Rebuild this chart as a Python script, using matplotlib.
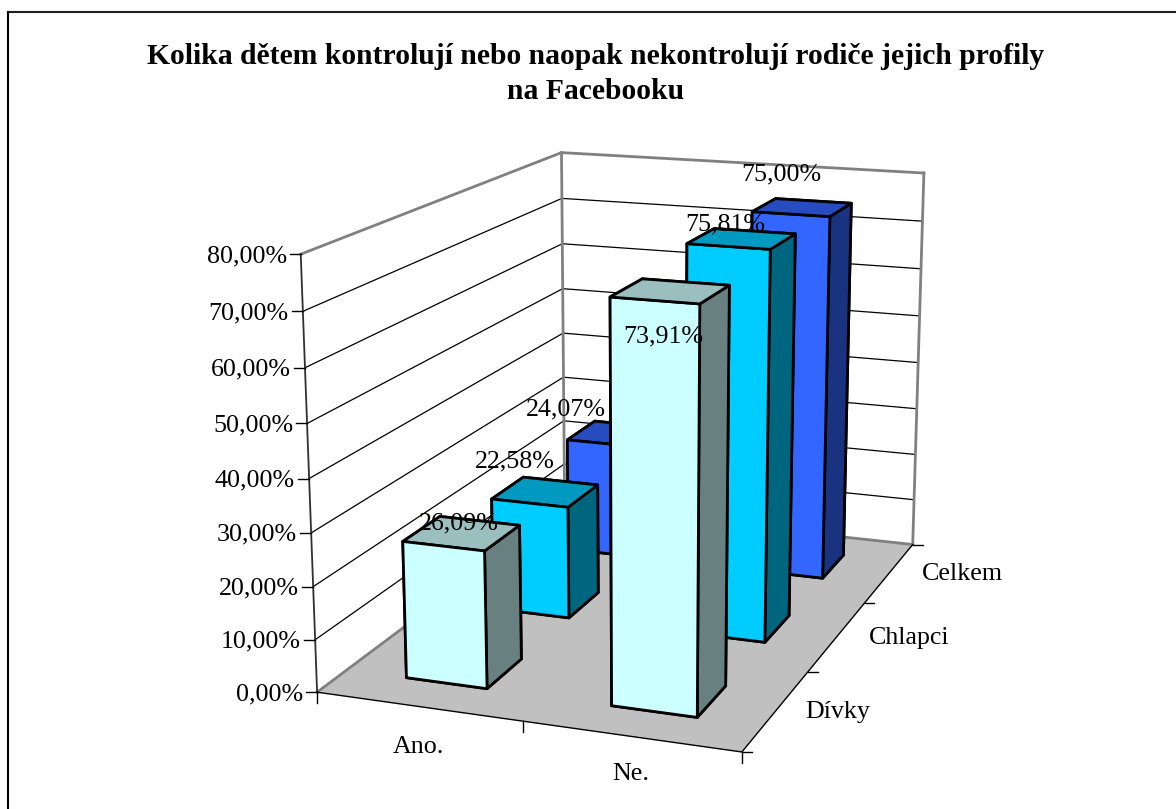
import matplotlib
matplotlib.use('Agg')
import matplotlib.pyplot as plt
from matplotlib.lines import Line2D
from mpl_toolkits.mplot3d import proj3d
from mpl_toolkits.mplot3d.art3d import Poly3DCollection

plt.rcParams['font.family'] = ['Liberation Serif', 'DejaVu Serif']

title = 'Kolika dětem kontrolují nebo naopak nekontrolují rodiče jejich profily\nna Facebooku'
answers = ['Ano.', 'Ne.']
groups = ['Dívky', 'Chlapci', 'Celkem']
divky = [26.09, 73.91]
chlapci = [22.58, 75.81]
celkem = [24.07, 75.00]
z_ticks = [0, 10, 20, 30, 40, 50, 60, 70, 80]

# front, top, side shade of each series
colors = [('#CCFFFF', '#9BBFBF', '#688080'),
          ('#00CCFF', '#0099BF', '#006680'),
          ('#3366FF', '#264CBF', '#1A3380')]

W, H = 1176, 809
FS = 18.7

fig = plt.figure(figsize=(W/100, H/100), dpi=100)

# camera fitted against the corners of the original picture
# Axes3D keeps its 2D view at x,y in (-0.095, 0.09)
s, tx, ty = 4498.46, 640.58, 415.43
side = s*0.185
ax = fig.add_axes([(tx-s*0.095)/W, (H-ty-s*0.095)/H, side/W, side/H], projection='3d', computed_zorder=False)
ax.set_xlim(0, 2, view_margin=0)
ax.set_ylim(0, 3, view_margin=0)
ax.set_zlim(0, 80, view_margin=0)
ax.view_init(15.0065, -69.9773, 0.0244)
ax.set_proj_type('persp', focal_length=0.5384)
ax.set_box_aspect((1.0, 1.4988, 1.0))
ax.set_axis_off()
ax.patch.set_alpha(0)

M = ax.get_proj()

def to_px(x, y, z):
    # data -> image pixels, y measured from the top
    u, v, _ = proj3d.proj_transform(x, y, z, M)
    return s*u+tx, ty-s*v

def fig_line(x0, y0, x1, y1, **kw):
    fig.add_artist(Line2D([x0/W, x1/W], [1-y0/H, 1-y1/H], transform=fig.transFigure, **kw))

def fig_text(x, y, txt, **kw):
    fig.text(x/W, 1-y/H, txt, fontsize=kw.pop('fontsize', FS), color='black', **kw)

# floor
floor = Poly3DCollection([[(0, 0, 0), (2, 0, 0), (2, 3, 0), (0, 3, 0)]], facecolor='#C0C0C0', edgecolor='none', zorder=1)
ax.add_collection3d(floor)

# walls and gridlines
for z in z_ticks[1:-1]:
    ax.plot([0, 0, 2], [0, 3, 3], [z, z, z], color='black', lw=0.9, zorder=2)
gray = dict(color='#808080', lw=2.0, zorder=3)
ax.plot([0, 0, 2], [0, 3, 3], [80, 80, 80], **gray)
ax.plot([0, 0, 2], [0, 3, 3], [0, 0, 0], **gray)
ax.plot([0, 0], [3, 3], [0, 80], **gray)
ax.plot([2, 2], [3, 3], [0, 80], **gray)
ax.plot([0, 0], [0, 0], [0, 80], color='#303030', lw=1.3, zorder=3)
ax.plot([0, 2, 2], [0, 0, 3], [0, 0, 0], color='black', lw=1.0, zorder=3)

# bars, back row first
bar_x, bar_y, bar_w = 0.30, 0.30, 0.40
series = [divky, chlapci, celkem]
order = 10
for j in [2, 1, 0]:
    front, top, right = colors[j]
    for i in range(len(answers)):
        ax.bar3d(i+bar_x, j+bar_y, 0, bar_w, bar_w, series[j][i],
                 color=[top, top, front, front, right, right],
                 shade=False, edgecolor='black', linewidth=2.0, zorder=order)
        order += 1

# value labels, as Excel placed them
label_pos = {(0, 0): (459, 523), (1, 0): (663, 336),
             (0, 1): (515, 461), (1, 1): (725, 224),
             (0, 2): (566, 409), (1, 2): (781, 174)}
for (i, j), (px, py) in label_pos.items():
    fig_text(px, py, ('%.2f%%' % series[j][i]).replace('.', ','), ha='center', va='center')

# value axis
for z in z_ticks:
    px, py = to_px(0, 0, z)
    fig_line(px-11, py, px, py, color='black', lw=1.0)
    fig_text(px-14, py+2, ('%.2f%%' % z).replace('.', ','), ha='right', va='center')

# category axes
for i in range(len(answers)+1):
    px, py = to_px(i, 0, 0)
    fig_line(px, py, px, py+11, color='black', lw=1.0)
for j in range(len(groups)+1):
    px, py = to_px(2, j, 0)
    fig_line(px, py, px+10, py, color='black', lw=1.0)
for name, (px, py) in zip(answers, [(418, 747), (631, 774)]):
    fig_text(px, py, name, ha='center', va='center')
for name, (px, py) in zip(groups, [(838, 712), (909, 638), (962, 574)]):
    fig_text(px, py, name, ha='center', va='center')

fig_text(595.5, 74, title, fontsize=21.3, fontweight='bold', ha='center', va='center', linespacing=1.41)

# chart frame, only top and left show in the crop
fig_line(8, 12, W, 12, color='#202020', lw=1.5)
fig_line(8, 12, 8, H, color='black', lw=1.5)

fig.savefig('out.png', dpi=100)
